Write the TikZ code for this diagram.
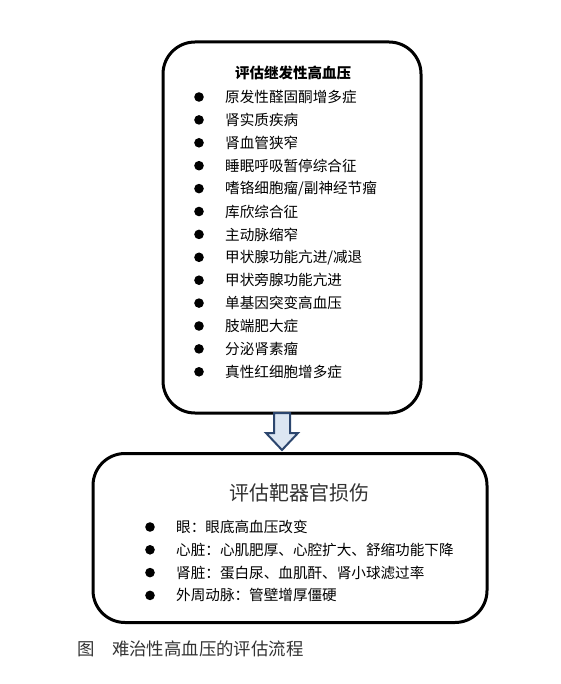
\documentclass[tikz,border=0pt]{standalone}
\usepackage{fontspec}
\setmainfont{Noto Sans CJK SC}
\usetikzlibrary{calc}
\definecolor{arrfill}{RGB}{220,230,242}
\definecolor{arredge}{RGB}{44,70,110}
\tikzset{
  stagebox/.style={
    draw=black, line width=3pt, rounded corners=32pt, fill=white
  },
  head/.style={font=\fontsize{14.5}{17}\selectfont\bfseries},
  bighead/.style={font=\fontsize{20}{24}\selectfont, text=black!80},
  item/.style={font=\fontsize{14.6}{17}\selectfont, anchor=west, inner sep=0pt},
  dot/.style={fill=black},
  blockarr/.style={draw=arredge, fill=arrfill, line width=2pt, line join=miter},
  capt/.style={font=\fontsize{17.4}{20}\selectfont, text=black!80, anchor=west, inner sep=0pt}
}
\begin{document}
\begin{tikzpicture}[x=1pt, y=-1pt]
  \useasboundingbox (0,0) rectangle (561,684);
  % boxes
  \node[stagebox, minimum width=258pt, minimum height=371pt] (sec) at (292,227.5) {};
  \node[stagebox, minimum width=394pt, minimum height=169pt] (organ) at (290,538) {};
  % secondary causes
  \node[head] (sectitle) at (293,73) {评估继发性高血压};
  \foreach \txt [count=\i] in {原发性醛固酮增多症, 肾实质疾病, 肾血管狭窄,
      睡眠呼吸暂停综合征, 嗜铬细胞瘤/副神经节瘤, 库欣综合征, 主动脉缩窄,
      甲状腺功能亢进/减退, 甲状旁腺功能亢进, 单基因突变高血压, 肢端肥大症,
      分泌肾素瘤, 真性红细胞增多症} {
    \node[item] (s\i) at (225,{97+(\i-1)*22.9}) {\txt};
    \fill[dot] ($(s\i.west)+(-26,0)$) circle (4.8pt);
  }
  % arrow between stages
  \coordinate (atop) at (282,413);
  \coordinate (abot) at (282,450);
  \draw[blockarr] ($(atop)+(-8,0)$) -- ($(atop)+(8,0)$) -- ($(abot)+(8,-17)$)
    -- ($(abot)+(16,-17)$) -- (abot) -- ($(abot)+(-16,-17)$)
    -- ($(abot)+(-8,-17)$) -- cycle;
  % target organ damage
  \node[bighead] (orgtitle) at (299,493) {评估靶器官损伤};
  \foreach \txt [count=\i] in {眼：眼底高血压改变,
      心脏：心肌肥厚、心腔扩大、舒缩功能下降,
      肾脏：蛋白尿、血肌酐、肾小球滤过率,
      外周动脉：管壁增厚僵硬} {
    \node[item] (o\i) at (176,{527+(\i-1)*22.8}) {\txt};
    \fill[dot] ($(o\i.west)+(-26,0)$) circle (4.8pt);
  }
  % caption
  \node[capt] (cap) at (77,649) {图　难治性高血压的评估流程};
\end{tikzpicture}
\end{document}
